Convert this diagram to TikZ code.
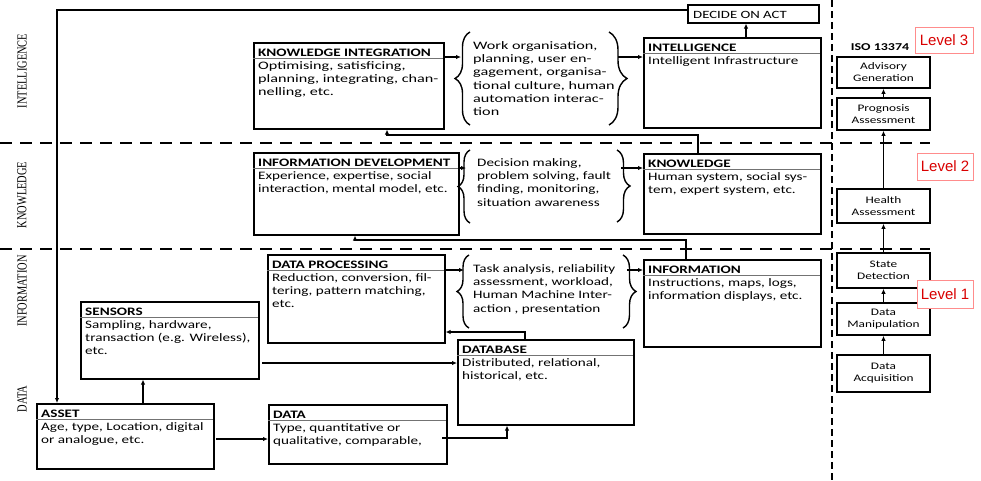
\documentclass[tikz,border=0pt]{standalone}
\usepackage{fontspec}
\setmainfont{Carlito}[FakeStretch=1.33]
\newfontfamily\widefont{Carlito}[FakeStretch=1.42]
\newfontfamily\lblfont{Liberation Serif}
\newfontfamily\lvlfont{Liberation Sans}
\usetikzlibrary{arrows.meta,decorations.pathreplacing}
\tikzset{
  boxs/.style={draw, line width=1.6pt, inner sep=0pt},
  ttl/.style={font=\fontsize{11.4}{13.3}\selectfont\bfseries, inner sep=0pt},
  bdy/.style={font=\fontsize{11.4}{13.3}\selectfont, inner sep=0pt, align=left},
  widebdy/.style={font={\widefont\fontsize{11.4}{13.3}\selectfont}},
  sepl/.style={draw=black!55, line width=0.8pt},
  conn/.style={line width=1.4pt, -{Latex[length=5pt,width=4.5pt]}},
  brc/.style={decorate, decoration={brace, amplitude=#1}, line width=1.4pt},
  hdash/.style={dash pattern=on 12pt off 8pt, line width=1.8pt},
  vdash/.style={dash pattern=on 7pt off 4pt, line width=2.6pt},
  isob/.style={draw, line width=1.6pt, minimum width=93pt, align=center,
    font=\fontsize{10}{12}\selectfont, inner sep=0pt},
  lvl/.style={draw=red!45, line width=0.8pt, fill=white, text=red!85!black,
    font=\lvlfont\fontsize{15}{15}\selectfont, inner sep=0pt},
  sidelbl/.style={rotate=90, inner sep=0pt, font=\lblfont\fontsize{10.4}{10.4}\selectfont}
}
\newcommand{\mybox}[8][]{%
  \node[boxs, minimum width=#5pt, minimum height=#6pt, anchor=north west] (#2) at (#3,#4) {};
  \node[ttl, anchor=base west] (#2-t) at (#3+5,#4+14) {#7};
  \draw[sepl] (#3,#4+16) -- (#3+#5,#4+16);
  \node[bdy, #1, anchor=north west] (#2-b) at (#3+5,#4+17.7) {\strut #8};
}
\begin{document}
\begin{tikzpicture}[x=1pt,y=-1pt]
\useasboundingbox (0,0) rectangle (981,480);

% side labels
\node[sidelbl] (lint) at (22,71) {\scalebox{1}[1.33]{INTELLIGENCE}};
\node[sidelbl] (lkno) at (22,195) {\scalebox{1}[1.33]{KNOWLEDGE}};
\node[sidelbl] (linf) at (22,291) {\scalebox{1}[1.33]{INFORMATION}};
\node[sidelbl] (ldat) at (22,399) {\scalebox{1}[1.33]{DATA}};

% dashed separators
\draw[hdash] (0,143) -- (930,143);
\draw[hdash] (0,249) -- (930,249);
\draw[vdash] (832,0) -- (832,480);

% boxes
\mybox[widebdy]{ki}{253}{42}{190}{86}{KNOWLEDGE INTEGRATION}{Optimising, satisficing,\\planning, integrating, chan-\\nelling, etc.}
\mybox{intel}{643}{37}{177}{90}{INTELLIGENCE}{Intelligent Infrastructure}
\mybox{id}{253}{152}{205}{82}{INFORMATION DEVELOPMENT}{Experience, expertise, social\\interaction, mental model, etc.}
\mybox{know}{643}{153}{177}{80}{KNOWLEDGE}{Human system, social sys-\\tem, expert system, etc.}
\mybox{dp}{267}{254}{177}{88}{DATA PROCESSING}{Reduction, conversion, fil-\\tering, pattern matching,\\etc.}
\mybox{info}{643}{259}{177}{87}{INFORMATION}{Instructions, maps, logs,\\information displays, etc.}
\mybox{db}{457}{339}{176}{85}{DATABASE}{Distributed, relational,\\historical, etc.}
\mybox{sens}{80}{301}{178}{77}{SENSORS}{Sampling, hardware,\\transaction (e.g. Wireless),\\etc.}
\mybox{asset}{36}{403}{177}{65}{ASSET}{Age, type, Location, digital\\or analogue, etc.}
\mybox{data}{268}{404}{178}{59}{DATA}{Type, quantitative or\\qualitative, comparable,}

% decide on act
\node[boxs, minimum width=131pt, minimum height=18pt, anchor=north west] (doa) at (687,4) {};
\node[inner sep=0pt, anchor=base west, font=\fontsize{11.1}{13}\selectfont] (doa-t) at (693,18.5) {DECIDE ON ACT};

% braces and their texts
\draw[brc=15pt] (470,125) -- (470,32);
\draw[brc=18pt] (609,32) -- (609,125);
\node[bdy, widebdy, anchor=north west] (br1) at (473,39.7) {\strut Work organisation,\\planning, user en-\\gagement, organisa-\\tional culture, human\\automation interac-\\tion};
\draw[brc=12pt] (470,223) -- (470,150);
\draw[brc=13pt] (617,150) -- (617,222);
\node[bdy, anchor=north west] (br2) at (477,156.7) {\strut Decision making,\\problem solving, fault\\finding, monitoring,\\situation awareness};
\draw[brc=12pt] (469,328) -- (469,255);
\draw[brc=13pt] (623,255) -- (623,328);
\node[bdy, anchor=north west] (br3) at (473,262.7) {\strut Task analysis, reliability\\assessment, workload,\\Human Machine Inter-\\action , presentation};

% connector coordinates
\coordinate (b1in) at (461,57);
\coordinate (b1out) at (618,57);
\coordinate (b2in) at (466,168);
\coordinate (b2out) at (621,168);
\coordinate (b3in) at (464,270);
\coordinate (b3out) at (627,270);
\coordinate (fb1) at (387,135);
\coordinate (fb2) at (355,240);
\coordinate (fb3) at (444,332);
\coordinate (s1) at (262,363);
\coordinate (a1) at (143,403);
\coordinate (a2) at (216,439);
\coordinate (d1) at (442,438);
\coordinate (d2) at (507,438);
\coordinate (topl) at (57,10);
\coordinate (i1) at (746,37);

% connectors
\draw[conn] (ki.east |- b1in) -- (b1in);
\draw[conn] (b1out) -- (b1out -| intel.west);
\draw[conn] (i1) -- (i1 |- doa.south);
\draw[conn] ([xshift=55pt]know.north west) |- (fb1) -- (fb1 |- ki.south);
\draw[conn] (id.east |- b2in) -- (b2in);
\draw[conn] (b2out) -- (b2out -| know.west);
\draw[conn] ([xshift=43pt]info.north west) |- (fb2) -- (fb2 |- id.south);
\draw[conn] (dp.east |- b3in) -- (b3in);
\draw[conn] (b3out) -- (b3out -| info.west);
\draw[conn] ([xshift=68pt]db.north west) |- (fb3 -| dp.east);
\draw[conn] (s1) -- (s1 -| db.west);
\draw[conn] (a1) -- (a1 |- sens.south);
\draw[conn] (a2) -- (a2 -| data.west);
\draw[conn] (d1) -- (d2) -- (d2 |- db.south);
\draw[conn] (doa.west |- topl) -- (topl) -- (topl |- asset.north);

% ISO 13374 column
\node[inner sep=0pt, font=\fontsize{10.5}{12}\selectfont\bfseries] (iso) at (880,47) {ISO 13374};
\node[isob, minimum height=31pt] (ag) at (883.5,72.5) {Advisory\\Generation};
\node[isob, minimum height=32pt] (pa) at (883.5,114) {Prognosis\\Assessment};
\node[isob, minimum height=34pt] (ha) at (883.5,206) {Health\\Assessment};
\node[isob, minimum height=35pt] (sd) at (883.5,270.5) {State\\Detection};
\node[isob, minimum height=32pt] (dm) at (883.5,319) {Data\\Manipulation};
\node[isob, minimum height=37pt] (da) at (883.5,373.5) {Data\\Acquisition};
\draw[conn] (pa.north) -- (ag.south);
\draw[conn] (ha.north) -- (pa.south);
\draw[conn] (sd.north) -- (ha.south);
\draw[conn] (dm.north) -- (sd.south);
\draw[conn] (da.north) -- (dm.south);

% level tags
\node[lvl, minimum width=58pt, minimum height=26pt] (lv3) at (944,40) {Level 3};
\node[lvl, minimum width=56pt, minimum height=27pt] (lv2) at (945,166.5) {Level 2};
\node[lvl, minimum width=56pt, minimum height=28pt] (lv1) at (945,294) {Level 1};
\end{tikzpicture}
\end{document}
